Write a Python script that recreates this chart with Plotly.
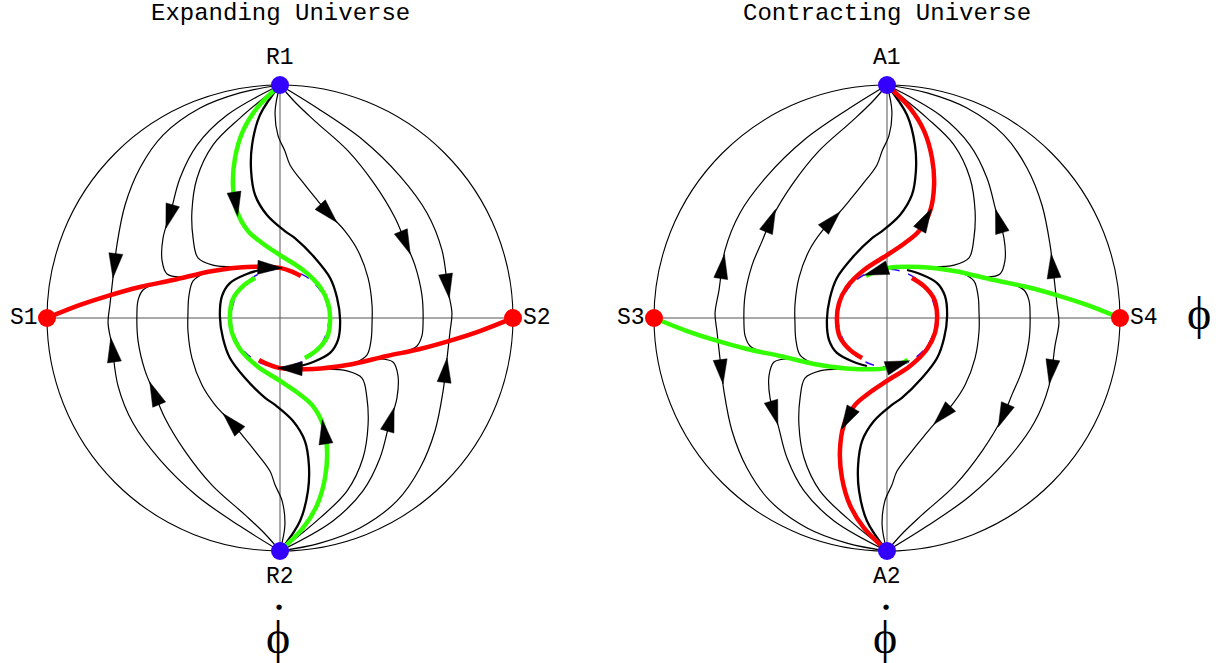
import numpy as np
import plotly.graph_objects as go

# Phase portraits on the compactified (unit disc) plane.
# Curves leaving R1 = (0, 1) in the expanding panel; the ones leaving R2 are
# the same curves turned by 180 degrees (the portrait has that symmetry).
traj_l1 = [(0, 1), (-0.172, 0.966), (-0.343, 0.901), (-0.502, 0.785), (-0.601, 0.644),
           (-0.665, 0.485), (-0.700, 0.313), (-0.717, 0.172), (-0.730, 0.056),
           (-0.738, -0.021), (-0.721, -0.120), (-0.695, -0.292), (-0.631, -0.451),
           (-0.515, -0.609), (-0.356, -0.764), (-0.172, -0.893), (0, -1)]
traj_l2 = [(0, 1), (-0.227, 0.871), (-0.356, 0.742), (-0.429, 0.601), (-0.468, 0.459),
           (-0.502, 0.343), (-0.506, 0.245), (-0.485, 0.189), (-0.429, 0.176), (-0.343, 0.189)]
traj_l3 = [(0, 1), (-0.172, 0.858), (-0.288, 0.742), (-0.356, 0.601), (-0.378, 0.459),
           (-0.373, 0.343), (-0.352, 0.258), (-0.288, 0.227), (-0.172, 0.219), (-0.099, 0.219)]
traj_t1 = [(0, 1), (-0.021, 0.888), (-0.009, 0.785), (0.021, 0.717), (0.043, 0.657),
           (0.107, 0.571), (0.163, 0.502), (0.206, 0.451), (0.279, 0.373), (0.335, 0.288),
           (0.378, 0.172), (0.395, 0.056), (0.395, -0.021), (0.391, -0.094), (0.373, -0.159),
           (0.322, -0.193), (0.266, -0.210)]
traj_t2 = [(0, 1), (0.064, 0.927), (0.150, 0.845), (0.292, 0.717), (0.408, 0.571),
           (0.494, 0.429), (0.536, 0.330), (0.579, 0.227), (0.609, 0.099), (0.614, -0.021),
           (0.609, -0.077), (0.588, -0.120), (0.536, -0.146)]
traj_b1 = [(0, 1), (-0.086, 0.871), (-0.120, 0.742), (-0.124, 0.631), (-0.107, 0.528),
           (-0.056, 0.442), (0.021, 0.373), (0.064, 0.343), (0.150, 0.258), (0.215, 0.172),
           (0.245, 0.086), (0.258, -0.009), (0.249, -0.094), (0.215, -0.150), (0.142, -0.189),
           (0.086, -0.206)]
traj_g1 = [(0, 1), (-0.099, 0.901), (-0.159, 0.803), (-0.193, 0.687), (-0.202, 0.571),
           (-0.185, 0.459), (-0.137, 0.373), (-0.077, 0.322), (0, 0.270), (0.099, 0.206),
           (0.172, 0.133), (0.206, 0.064), (0.215, -0.009), (0.202, -0.082), (0.159, -0.137),
           (0.107, -0.172)]
sep_s1 = [(-1, 0), (-0.858, 0.056), (-0.742, 0.094), (-0.601, 0.133), (-0.459, 0.163),
          (-0.288, 0.202), (-0.142, 0.219), (0, 0.215), (0.056, 0.197), (0.090, 0.180)]

limit_radius = 0.21

# arrow centres (x, y, rough direction)
arrows_exp = [(-0.700, 0.223, 'd'), (-0.721, -0.137, 'u'), (-0.468, 0.433, 'd'),
              (-0.210, 0.485, 'd'), (0.206, 0.446, 'd'), (0.536, 0.322, 'd'),
              (-0.043, 0.206, 'r'), (0.700, -0.223, 'u'), (0.721, 0.137, 'd'),
              (0.468, -0.433, 'u'), (0.210, -0.485, 'u'), (-0.206, -0.446, 'u'),
              (-0.536, -0.322, 'u'), (0.043, -0.206, 'l')]
arrows_con = [(-0.717, 0.223, 'u'), (-0.506, 0.421, 'u'), (-0.240, 0.421, 'u'),
              (0.172, 0.421, 'u'), (0.494, 0.421, 'u'), (0.708, 0.223, 'u'),
              (-0.717, -0.232, 'd'), (-0.498, -0.412, 'd'), (-0.172, -0.433, 'd'),
              (0.240, -0.421, 'd'), (0.502, -0.421, 'd'), (0.708, -0.232, 'd'),
              (-0.052, 0.215, 'l'), (0.052, -0.215, 'r')]

repellers = ['R1', 'R2']
attractors = ['A1', 'A2']
saddles_exp = ['S1', 'S2']
saddles_con = ['S3', 'S4']

GREEN = '#33ff00'
RED = '#ff0000'
BLUE = '#3300ff'


def rot(pts):
    return [(-x, -y) for x, y in pts]


def mirror(pts):
    return [(-x, y) for x, y in pts]


thin = [traj_l1, traj_l2, traj_l3, traj_t1, traj_t2]
exp = {
    'thin': thin + [rot(c) for c in thin],
    'thick': [traj_b1, rot(traj_b1)],
    'green': [traj_g1, rot(traj_g1)],
    'red': [sep_s1, rot(sep_s1)],
}
# contracting universe: mirror image, time reversed, colours swapped
con = {
    'thin': [mirror(c) for c in exp['thin']],
    'thick': [mirror(c) for c in exp['thick']],
    'green': [mirror(c) for c in exp['red']],
    'red': [mirror(c) for c in exp['green']],
}

HINT = {'u': (0, 1), 'd': (0, -1), 'l': (-1, 0), 'r': (1, 0)}


def arrow_polys(curves, arrows, length=0.105, half=0.03):
    xs, ys = [], []
    for px, py, hint in arrows:
        p0 = np.array([px, py])
        best = None
        for c in curves:
            pts = np.array(c, float)
            for a, b in zip(pts[:-1], pts[1:]):
                d = b - a
                t = np.clip(np.dot(p0 - a, d) / np.dot(d, d), 0, 1)
                q = a + t * d
                dist = np.hypot(*(q - p0))
                if best is None or dist < best[0]:
                    best = (dist, q, d / np.linalg.norm(d))
        _, q, u = best
        if np.dot(u, HINT[hint]) < 0:
            u = -u
        n = np.array([-u[1], u[0]])
        tip = q + u * length / 2
        base = q - u * length / 2
        for pt in (tip, base + n * half, base - n * half, tip):
            xs.append(pt[0])
            ys.append(pt[1])
        xs.append(None)
        ys.append(None)
    return xs, ys


fig = go.Figure()


def add_panel(panel, arrows, xa, names, saddle_names, title):
    xref = 'x' if xa == 'x' else 'x2'
    # frame: disc boundary, axes, limit circle
    fig.add_shape(type='circle', xref=xref, yref='y', x0=-1, y0=-1, x1=1, y1=1,
                  line=dict(color='black', width=1.1), layer='below')
    fig.add_shape(type='line', xref=xref, yref='y', x0=-1, y0=0, x1=1, y1=0,
                  line=dict(color='#555555', width=1), layer='below')
    fig.add_shape(type='line', xref=xref, yref='y', x0=0, y0=-1, x1=0, y1=1,
                  line=dict(color='#555555', width=1), layer='below')
    fig.add_shape(type='circle', xref=xref, yref='y', x0=-limit_radius, y0=-limit_radius,
                  x1=limit_radius, y1=limit_radius,
                  line=dict(color=BLUE, width=1.5, dash='dash'), layer='below')

    styles = [('thin', 'black', 1.2), ('thick', 'black', 2.3),
              ('green', GREEN, 4.5), ('red', RED, 4.5)]
    for key, col, w in styles:
        for c in panel[key]:
            fig.add_trace(go.Scatter(x=[p[0] for p in c], y=[p[1] for p in c], xaxis=xa,
                                     mode='lines', line=dict(color=col, width=w, shape='spline'),
                                     hoverinfo='skip'))

    all_curves = panel['thin'] + panel['thick'] + panel['green'] + panel['red']
    ax_, ay_ = arrow_polys(all_curves, arrows)
    fig.add_trace(go.Scatter(x=ax_, y=ay_, xaxis=xa, mode='lines', fill='toself',
                             fillcolor='black', line=dict(color='black', width=0.5),
                             hoverinfo='skip'))

    fig.add_trace(go.Scatter(x=[0, 0], y=[1, -1], xaxis=xa, mode='markers',
                             marker=dict(color=BLUE, size=18), hoverinfo='skip'))
    fig.add_trace(go.Scatter(x=[-1, 1], y=[0, 0], xaxis=xa, mode='markers',
                             marker=dict(color=RED, size=18), hoverinfo='skip'))

    mono = dict(family='Liberation Mono', size=23, color='black')
    for txt, x, y in [(names[0], 0, 1.116), (names[1], 0, -1.112),
                      (saddle_names[0], -1.098, 0), (saddle_names[1], 1.104, 0)]:
        fig.add_annotation(x=x, y=y, xref=xref, yref='y', text=txt, showarrow=False,
                           font=mono, xanchor='center', yanchor='middle')
    fig.add_annotation(x=0, y=1.305, xref=xref, yref='y', text=title, showarrow=False,
                       font=dict(family='Liberation Mono', size=24, color='black'),
                       xanchor='center', yanchor='middle')
    serif = dict(family='Liberation Serif', size=46, color='black')
    fig.add_annotation(x=-0.009, y=-1.37, xref=xref, yref='y', text='ϕ', showarrow=False,
                       font=serif, xanchor='center', yanchor='middle')
    fig.add_annotation(x=-0.004, y=-1.24, xref=xref, yref='y', text='●', showarrow=False,
                       font=dict(family='DejaVu Sans', size=7, color='black'),
                       xanchor='center', yanchor='middle')


add_panel(exp, arrows_exp, 'x', repellers, saddles_exp, 'Expanding Universe')
add_panel(con, arrows_con, 'x2', attractors, saddles_con, 'Contracting Universe')

fig.add_annotation(x=1.339, y=0.02, xref='x2', yref='y', text='ϕ', showarrow=False,
                   font=dict(family='Liberation Serif', size=46, color='black'),
                   xanchor='center', yanchor='middle')

# pixel geometry of the reference: disc radius 233 px, centres at x=280 / 887, y=318
R_PX, W, H, CY = 233.0, 1225, 663, 318
fig.update_layout(
    width=W, height=H, margin=dict(l=0, r=0, t=0, b=0),
    paper_bgcolor='white', plot_bgcolor='white', showlegend=False,
    xaxis=dict(domain=[0, 0.5], range=[-280 / R_PX, (W / 2 - 280) / R_PX], visible=False),
    xaxis2=dict(domain=[0.5, 1], range=[(W / 2 - 887) / R_PX, (W - 887) / R_PX], visible=False),
    yaxis=dict(range=[(CY - H) / R_PX, CY / R_PX], visible=False),
)

fig.write_html("out.html", config={'displayModeBar': False},
               post_script="document.body.style.margin='0';")
